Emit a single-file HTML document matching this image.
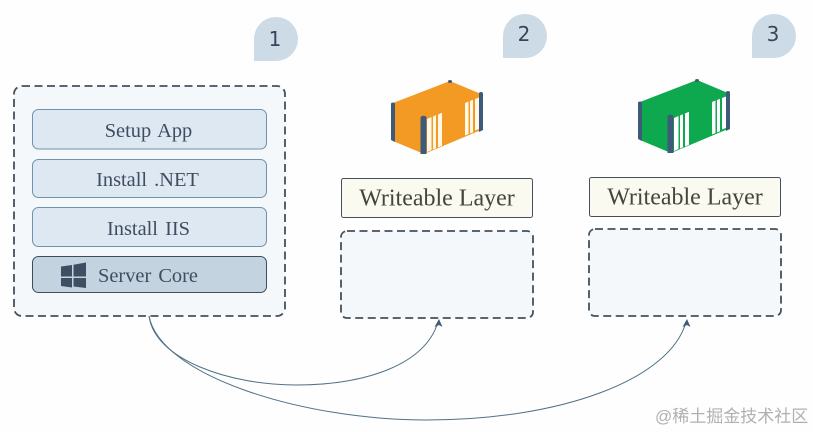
<!DOCTYPE html>
<html><head><meta charset="utf-8"><style>
html,body{margin:0;padding:0;background:#fefefe}
svg{display:block}
.s{font-family:"Liberation Serif",serif;fill:#3f4d60;text-anchor:middle;font-size:20.4px;word-spacing:2px}
.w{font-family:"Liberation Serif",serif;fill:#45453c;text-anchor:middle;font-size:24px}
.n{font-family:"DejaVu Sans",sans-serif;fill:#36465a;text-anchor:middle;font-size:20px}
.b{fill:#deE8f3;stroke:#6f93a9;stroke-width:1}
.d{fill:#f5f8fa;stroke:#44505c;stroke-width:1.800;stroke-dasharray:8 4.500}
.l{fill:#fbfaf0;stroke:#44505c;stroke-width:1}
</style></head><body>
<svg width="813" height="432" viewBox="0 0 813 432" xmlns="http://www.w3.org/2000/svg">
<defs>
<g id="posts">
<path d="M391 104h4v38l-4 -2zM420.500 118h6v36h-6zM479 94h4v36l-4 2z" fill="#3f5a78"/>
<ellipse cx="450" cy="81.500" rx="2" ry="1.500" fill="#3f5a78"/>
<ellipse cx="393" cy="104" rx="2" ry="1.500" fill="#3f5a78"/>
<ellipse cx="423.500" cy="117.500" rx="3" ry="1.800" fill="#3f5a78"/>
<ellipse cx="481" cy="93.500" rx="2" ry="1.500" fill="#3f5a78"/>
</g>
</defs>

<path d="M254 61V39a22 22 0 1 1 22 22z" fill="#cddbe6"/>
<text x="275" y="46" class="n">1</text>
<path d="M503 58V36a22 22 0 1 1 22 22z" fill="#cddbe6"/>
<text x="524" y="41" class="n">2</text>
<path d="M752 58V36a22 22 0 1 1 22 22z" fill="#cddbe6"/>
<text x="773" y="41" class="n">3</text>

<rect x="14" y="86" width="271" height="230" rx="8" class="d"/>
<rect x="32.500" y="109.500" width="234" height="39.500" rx="6" class="b"/>
<rect x="32.500" y="159.500" width="234" height="38" rx="6" class="b"/>
<rect x="32.500" y="207.500" width="234" height="39" rx="6" class="b"/>
<rect x="32.500" y="256.500" width="234" height="36" rx="6" fill="#c4d3e0" stroke="#3d4d5c"/>
<text x="148.500" y="137" class="s">Setup App</text>
<text x="147.500" y="186" class="s">Install .NET</text>
<text x="148.500" y="235" class="s">Install IIS</text>
<text x="148" y="282" class="s">Server Core</text>
<path d="M61 266.500l11 -1.500v11.500H61zM73.500 264.800L86 262.500V276.500H73.500zM61 278h11v9.500L61 286zM73.500 278H86V288L73.500 286.500z" fill="#3f4f63"/>

<rect x="341.500" y="178.500" width="191" height="39" rx="2" class="l"/>
<text x="437" y="205.500" class="w">Writeable Layer</text>
<rect x="341" y="231" width="192" height="87" rx="6" class="d"/>
<rect x="589.500" y="177.500" width="191" height="39" rx="2" class="l"/>
<text x="685" y="204.500" class="w">Writeable Layer</text>
<rect x="589" y="229" width="192" height="87" rx="6" class="d"/>

<path d="M450 81L481 94V130L424 154L393 141V103z" fill="#f39a24"/>
<path d="M427 119l4.500 -2v33l-4.500 2zM433 116.500l3 -1.200v33l-3 1.200zM438 114.500l4 -1.700v33l-4 1.700zM465 103l3.500 -1.500v32.500l-3.500 1.500zM470 101l3 -1.300v32.500l-3 1.300zM475 99l4 -1.500v31.500l-4 1.500z" fill="#fff8e8"/>
<use href="#posts"/>
<g transform="translate(247,-1)">
<path d="M450 81L481 94V130L424 154L393 141V103z" fill="#0ea84f"/>
<path d="M427 119l4.500 -2v33l-4.500 2zM433 116.500l3 -1.200v33l-3 1.200zM438 114.500l4 -1.700v33l-4 1.700zM465 103l3.500 -1.500v32.500l-3.500 1.500zM470 101l3 -1.300v32.500l-3 1.300zM475 99l4 -1.500v31.500l-4 1.500z" fill="#fff"/>
<use href="#posts"/>
</g>

<path d="M149 316C155 360 230 385 296 385C365 385 425 365 438 322" fill="none" stroke="#4f7186" stroke-width="1"/>
<path d="M149 316C160 375 300 420 427 420C560 420 670 380 686 322" fill="none" stroke="#4f7186" stroke-width="1"/>
<path d="M439 319l-4.500 8l4.500 -2l3.500 2z" fill="#3f5a78"/>
<path d="M687 319l-4.500 8l4.500 -2l3.500 2z" fill="#3f5a78"/>

<text x="655" y="422" font-family="'Liberation Sans','Noto Sans CJK SC',sans-serif" font-size="17" fill="#b0b0b0">@稀土掘金技术社区</text>
</svg>
</body></html>
